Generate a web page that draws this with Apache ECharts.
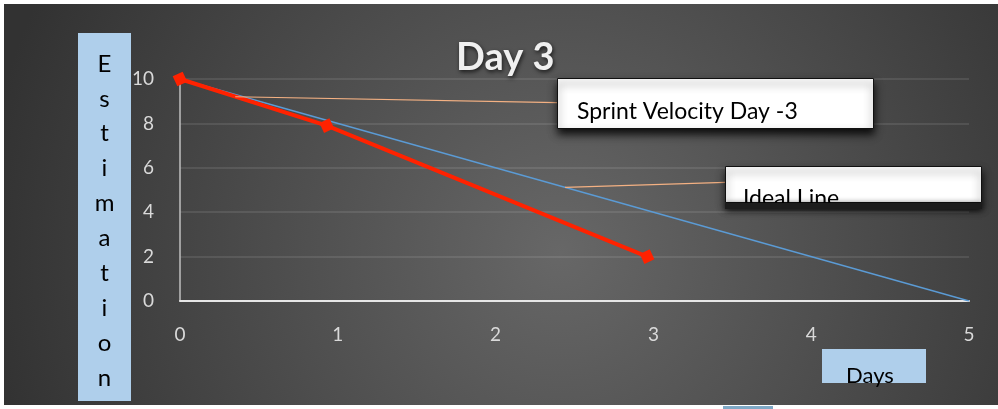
<!DOCTYPE html>
<html>
<head>
<meta charset="utf-8">
<script src="https://cdn.jsdelivr.net/npm/echarts@6/dist/echarts.min.js"></script>
<style>
  html, body { margin: 0; padding: 0; background: #fff; }
  #chart { position: absolute; left: 4px; top: 4px; width: 994px; height: 401px; }
  #stub { position: absolute; left: 723px; top: 406px; width: 50px; height: 3px; background: #7fa9c6; }
</style>
</head>
<body>
<div id="chart"></div>
<div id="stub"></div>
<script>
// sprint burndown, day 3
const sprintDays = [0, 0.93, 2.96];
const sprintEstimate = [10, 7.9, 2];
const idealDays = [0, 5];
const idealEstimate = [10, 0];
const yTicks = [0, 2, 4, 6, 8, 10];
const xTicks = [0, 1, 2, 3, 4, 5];

// where the callout leader lines touch the series (data coords)
const sprintAnchor = [0.35, 9.2];
const idealAnchor = [2.44, 5.12];

const font = 'Lato, "Open Sans", sans-serif';
const chart = echarts.init(document.getElementById('chart'));

const zip = (xs, ys) => xs.map((x, i) => [x, ys[i]]);

chart.setOption({
  animation: false,
  backgroundColor: {
    type: 'radial', x: 0.56, y: 0.62, r: 1.45,
    colorStops: [
      { offset: 0, color: '#676767' },
      { offset: 1, color: '#323232' }
    ]
  },
  title: {
    text: 'Day 3',
    left: 447,
    top: 30,
    textStyle: {
      fontFamily: font, fontSize: 38, fontWeight: 'bold', color: '#f0f0f0',
      textShadowColor: 'rgba(0,0,0,0.7)', textShadowBlur: 4, textShadowOffsetX: 1, textShadowOffsetY: 2
    }
  },
  grid: { left: 176, right: 29, top: 75, bottom: 104 },
  xAxis: {
    type: 'value', min: xTicks[0], max: xTicks[xTicks.length - 1], interval: 1,
    axisLine: { lineStyle: { color: '#e6e6e6', width: 2 } },
    axisTick: { show: false },
    splitLine: { show: false },
    axisLabel: { color: '#d9d9d9', fontSize: 19, fontFamily: font, margin: 24 }
  },
  yAxis: {
    type: 'value', min: yTicks[0], max: yTicks[yTicks.length - 1], interval: 2,
    axisLine: { show: true, lineStyle: { color: '#bfbfbf', width: 1.5 } },
    axisTick: { show: false },
    splitLine: { lineStyle: { color: 'rgba(255,255,255,0.13)', width: 1.5 } },
    axisLabel: { color: '#d9d9d9', fontSize: 19, fontFamily: font, margin: 26, padding: [5, 0, 0, 0] }
  },
  series: [
    {
      name: 'Ideal Line',
      type: 'line',
      data: zip(idealDays, idealEstimate),
      showSymbol: false,
      lineStyle: { color: '#5b9bd5', width: 1.3 },
      z: 2
    },
    {
      name: 'Sprint Velocity Day -3',
      type: 'line',
      data: zip(sprintDays, sprintEstimate),
      symbol: 'rect',
      symbolSize: 11,
      symbolRotate: 25,
      itemStyle: { color: '#ff2200' },
      lineStyle: { color: '#ff2200', width: 4 },
      z: 3
    }
  ]
});

const sp = chart.convertToPixel({ gridIndex: 0 }, sprintAnchor);
const ip = chart.convertToPixel({ gridIndex: 0 }, idealAnchor);
const boxShadow = { shadowColor: 'rgba(0,0,0,0.85)', shadowBlur: 8, shadowOffsetY: 5 };

chart.setOption({
  graphic: [
    // y axis title box
    { type: 'rect', shape: { x: 74, y: 29, width: 53, height: 368 }, style: { fill: '#afcfeb' }, z: 5 },
    {
      type: 'text', x: 100.5, y: 217, z: 6,
      style: {
        text: 'Estimation'.split('').join('\n'),
        fontFamily: font, fontSize: 24, lineHeight: 34.9,
        fill: '#000', align: 'center', verticalAlign: 'middle'
      }
    },
    // x axis title box
    { type: 'rect', shape: { x: 818, y: 345, width: 104, height: 34 }, style: { fill: '#afcfeb' }, z: 5 },
    {
      type: 'text', x: 866, y: 372, z: 6,
      style: { text: 'Days', fontFamily: font, fontSize: 22, fill: '#000', align: 'center', verticalAlign: 'middle' }
    },
    // leader lines
    { type: 'line', shape: { x1: sp[0], y1: sp[1], x2: 553, y2: 98.7 }, style: { stroke: '#f4b183', lineWidth: 1.2 }, z: 5 },
    { type: 'line', shape: { x1: ip[0], y1: ip[1], x2: 721, y2: 178.3 }, style: { stroke: '#f4b183', lineWidth: 1.2 }, z: 5 },
    // callout: sprint
    {
      type: 'rect', shape: { x: 553.5, y: 74.5, width: 316, height: 50 },
      style: Object.assign({ fill: '#fff', stroke: '#111', lineWidth: 1 }, boxShadow), z: 7
    },
    {
      type: 'text', x: 573, y: 108, z: 8,
      style: { text: 'Sprint Velocity Day -3', fontFamily: font, fontSize: 23, fill: '#000', verticalAlign: 'middle' }
    },
    // callout: ideal line (text runs past the box bottom and is cut)
    {
      type: 'rect', shape: { x: 721.5, y: 162.5, width: 256, height: 36 },
      style: Object.assign({ fill: '#fff', stroke: '#111', lineWidth: 1 }, boxShadow), z: 7
    },
    {
      type: 'text', x: 739, y: 195, z: 8,
      style: { text: 'Ideal Line', fontFamily: font, fontSize: 23, fill: '#000', verticalAlign: 'middle' }
    },
    {
      type: 'rect', shape: { x: 721, y: 199, width: 257, height: 6 },
      style: { fill: '#1c1c1c', shadowColor: 'rgba(0,0,0,0.7)', shadowBlur: 6, shadowOffsetY: 1 }, z: 9
    }
  ]
});

window.addEventListener('resize', () => chart.resize());
</script>
</body>
</html>
